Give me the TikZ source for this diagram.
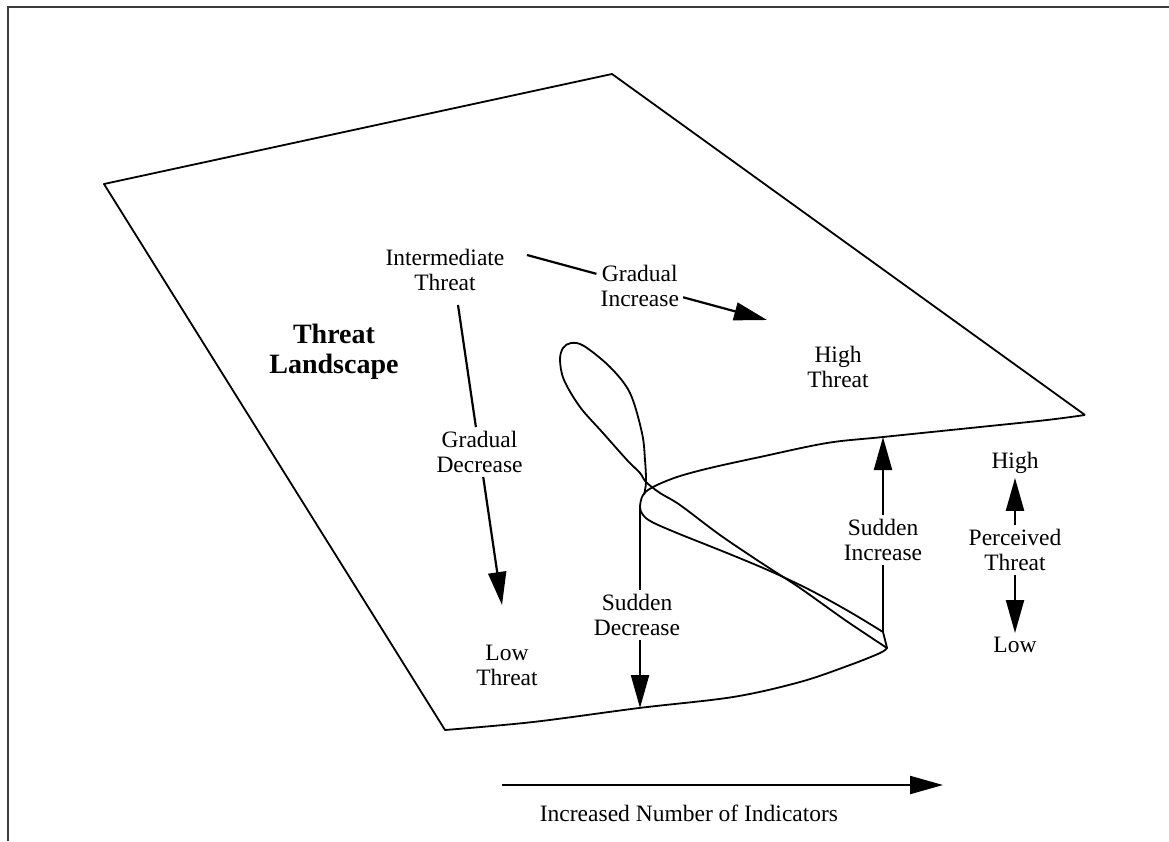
\documentclass[tikz,border=0pt]{standalone}
\usepackage{fontspec}
\setmainfont{Liberation Serif}
\usetikzlibrary{arrows.meta,calc}
\definecolor{framegray}{RGB}{60,60,60}
\tikzset{
  lbl/.style={font=\fontsize{23.5}{25}\selectfont, align=center, inner sep=4pt},
  boldlbl/.style={font=\fontsize{28}{30}\selectfont\bfseries, align=center, inner sep=4pt},
  arr/.style={line width=2.2pt, -{Triangle[length=33pt,width=18pt]}},
  ln/.style={line width=2.2pt},
  surf/.style={line width=1.8pt, line join=round},
  framestyle/.style={line width=2.6pt, draw=framegray}
}
\begin{document}
\begin{tikzpicture}[x=1pt,y=-1pt]
\useasboundingbox (0,0) rectangle (1169,841);
% frame
\draw[framestyle] (8,841) -- (8,7) -- (1169,7);
% surface outline
\draw[surf] (1085,415) -- (612,74) -- (104,184) -- (445,730)
  -- plot[smooth,tension=0.55] coordinates {(445,730) (533,722) (639,708) (733,697) (800,682) (850,665) (880,653) (887,648)}
  -- (883,632)
  -- plot[smooth,tension=0.55] coordinates {(883,632) (850,612) (810,590) (770,571) (727,553) (677,533) (652,522) (643,515) (640,507) (643,495) (653,487) (677,477) (710,468) (760,457) (827,443) (883,437) (980,427) (1047,420) (1085,415)};
% fold silhouette with loop
\draw[surf] plot[smooth,tension=0.55] coordinates {(887,648) (845,620) (800,588) (760,562) (720,535) (680,505) (660,493) (646,482) (640,473) (627,460) (603,433) (580,407) (564,380) (560,360) (563,348) (571,343) (584,346) (610,367) (630,393) (642,433) (645,460) (646,482) (644,495)};
% coordinates
\coordinate (gi1) at (527,255);
\coordinate (gi2) at (767,320);
\coordinate (gd1) at (458,305);
\coordinate (gd2) at (502,605);
\coordinate (sd1) at (640,507);
\coordinate (sd2) at (640,708);
\coordinate (si1) at (883,632);
\coordinate (si2) at (883,437);
\coordinate (ax1) at (502,785);
\coordinate (ax2) at (943,785);
% labels
\node[lbl] (it) at (445,270) {Intermediate\\Threat};
\node[lbl] (gi) at ($(gi1)!0.47!(gi2)$) {Gradual\\Increase};
\node[lbl] (ht) at (838,367) {High\\Threat};
\node[boldlbl] (tl) at (334,352) {Threat\\Landscape};
\node[lbl] (gd) at ($(gd1)!0.49!(gd2)$) {Gradual\\Decrease};
\node[lbl] (lt) at (507,665) {Low\\Threat};
\node[lbl] (sd) at (637,615) {Sudden\\Decrease};
\node[lbl] (si) at (883,540) {Sudden\\Increase};
\node[lbl] (hi) at (1015,463) {High};
\node[lbl] (pt) at (1015,550) {Perceived\\Threat};
\node[lbl] (lo) at (1015,645) {Low};
\node[lbl] (ind) at (689,813) {Increased Number of Indicators};
% connectors
\draw[ln] (gi1) -- (gi);
\draw[arr] (gi) -- (gi2);
\draw[ln] (gd1) -- (gd);
\draw[arr] (gd) -- (gd2);
\draw[ln] (sd1) -- (sd1 |- sd.north);
\draw[arr] (sd2 |- sd.south) -- (sd2);
\draw[ln] (si1) -- (si1 |- si.south);
\draw[arr] (si1 |- si.north) -- (si2);
\draw[arr] (pt) -- (hi);
\draw[arr] (pt) -- (lo);
\draw[arr] (ax1) -- (ax2);
\end{tikzpicture}
\end{document}
